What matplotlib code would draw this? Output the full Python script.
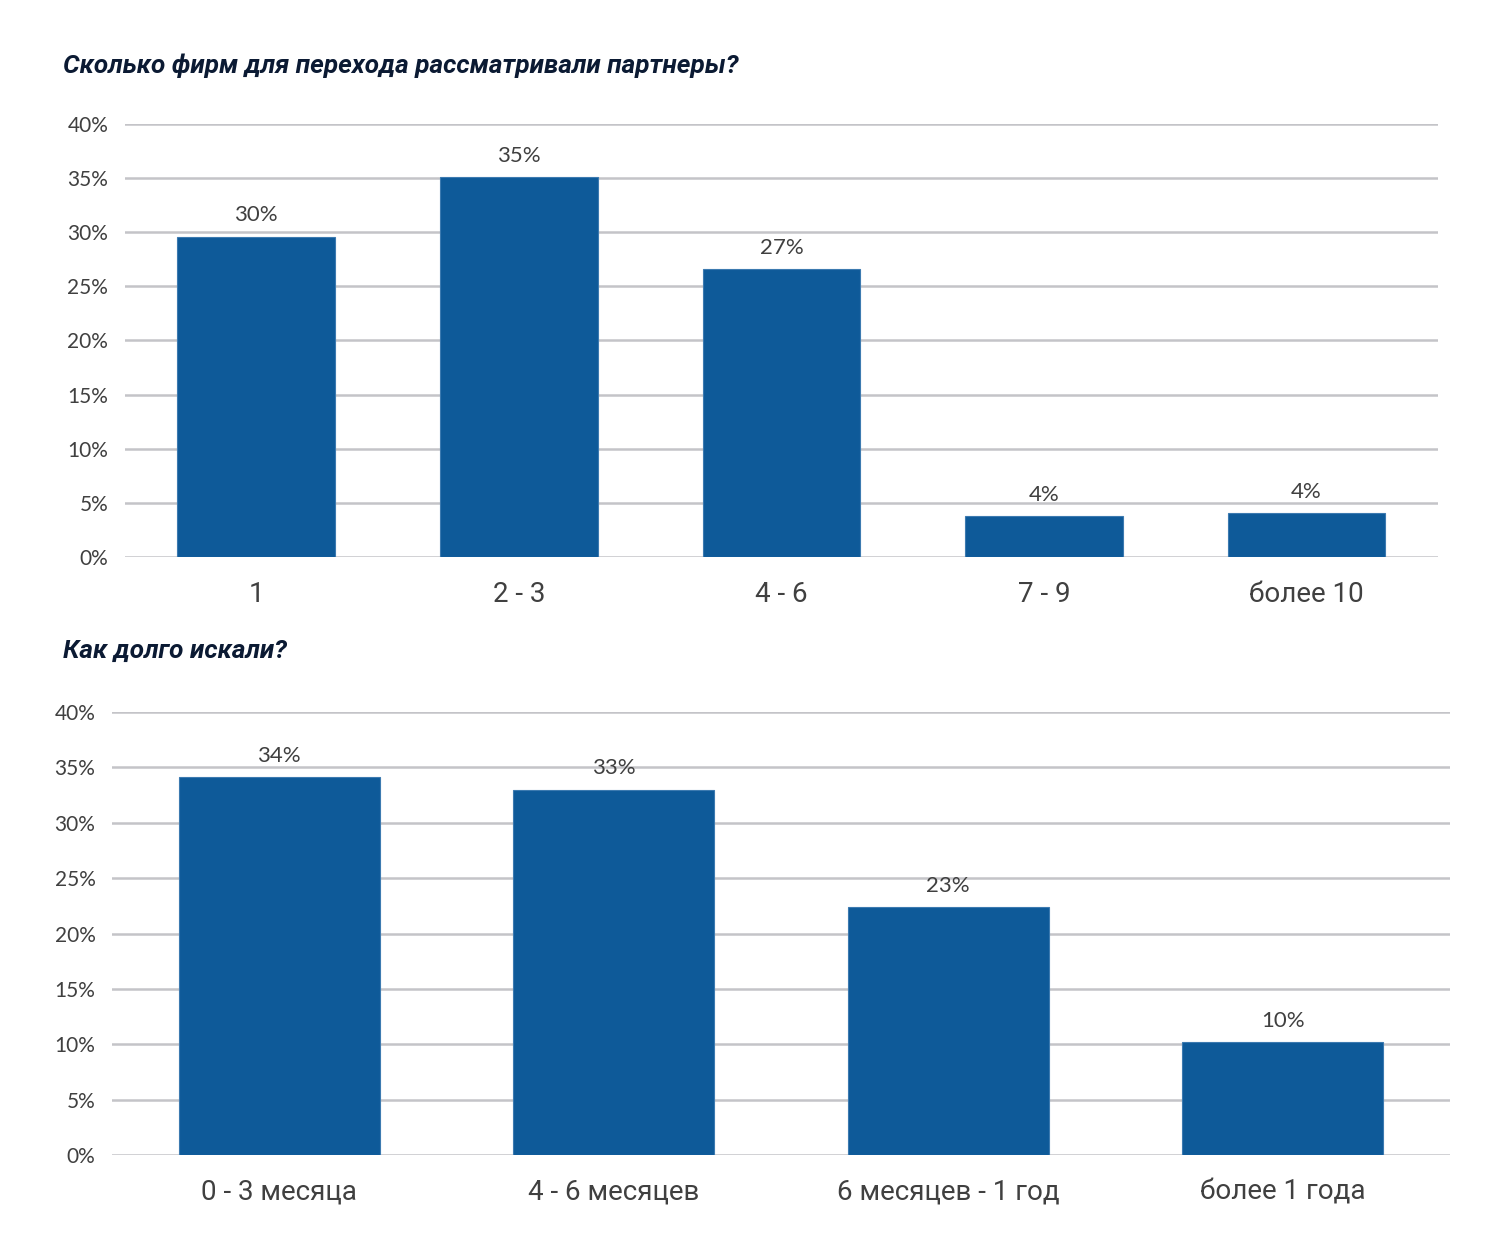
import matplotlib.pyplot as plt

plt.rcParams['font.family'] = ['Roboto', 'DejaVu Sans']

firms_labels = ['1', '2 - 3', '4 - 6', '7 - 9', 'более 10']
firms_values = [29.6, 35.1, 26.6, 3.8, 4.1]
firms_text = ['30%', '35%', '27%', '4%', '4%']

time_labels = ['0 - 3 месяца', '4 - 6 месяцев', '6 месяцев - 1 год', 'более 1 года']
time_values = [34.1, 33.0, 22.4, 10.2]
time_text = ['34%', '33%', '23%', '10%']

yticks = [0, 5, 10, 15, 20, 25, 30, 35, 40]
ytick_labels = [f'{t}%' for t in yticks]

bar_color = '#0E5A99'
grid_color = '#C4C4C8'
text_color = '#404040'
title_color = '#0B1A33'

fig = plt.figure(figsize=(15, 12.37), dpi=100)
fig.patch.set_facecolor('white')


def draw(ax, labels, values, texts):
    x = range(len(labels))
    ax.bar(x, values, width=0.6, color=bar_color, edgecolor='#3C7AB0',
           linewidth=0.8, zorder=3)
    for xi, v, t in zip(x, values, texts):
        ax.annotate(t, (xi, v), xytext=(0, 8), textcoords='offset points',
                    ha='center', va='bottom', fontsize=16, color=text_color,
                    family=['Lato', 'DejaVu Sans'])
    ax.set_xlim(-0.5, len(labels) - 0.5)
    ax.set_ylim(0, 40)
    ax.set_yticks(yticks)
    ax.set_yticklabels(ytick_labels, family=['Lato', 'DejaVu Sans'])
    ax.set_xticks(list(x))
    ax.set_xticklabels(labels)
    ax.tick_params(axis='y', length=0, pad=12, labelsize=15, labelcolor=text_color)
    ax.tick_params(axis='x', length=0, pad=17, labelsize=20, labelcolor=text_color)
    ax.grid(axis='y', color=grid_color, linewidth=1.8, zorder=0)
    ax.set_axisbelow(True)
    for s in ax.spines.values():
        s.set_visible(False)


ax1 = fig.add_axes([0.0833, 0.5497, 0.8753, 0.3501])
draw(ax1, firms_labels, firms_values, firms_text)

ax2 = fig.add_axes([0.0747, 0.0663, 0.8920, 0.3581])
draw(ax2, time_labels, time_values, time_text)

fig.text(63 / 1500, 1 - 66 / 1237, 'Сколько фирм для перехода рассматривали партнеры?',
         ha='left', va='center', fontsize=18.8, fontweight='bold', fontstyle='italic',
         color=title_color)
fig.text(63 / 1500, 1 - 651 / 1237, 'Как долго искали?',
         ha='left', va='center', fontsize=18.8, fontweight='bold', fontstyle='italic',
         color=title_color)

fig.savefig('out.png', dpi=100, facecolor='white')
